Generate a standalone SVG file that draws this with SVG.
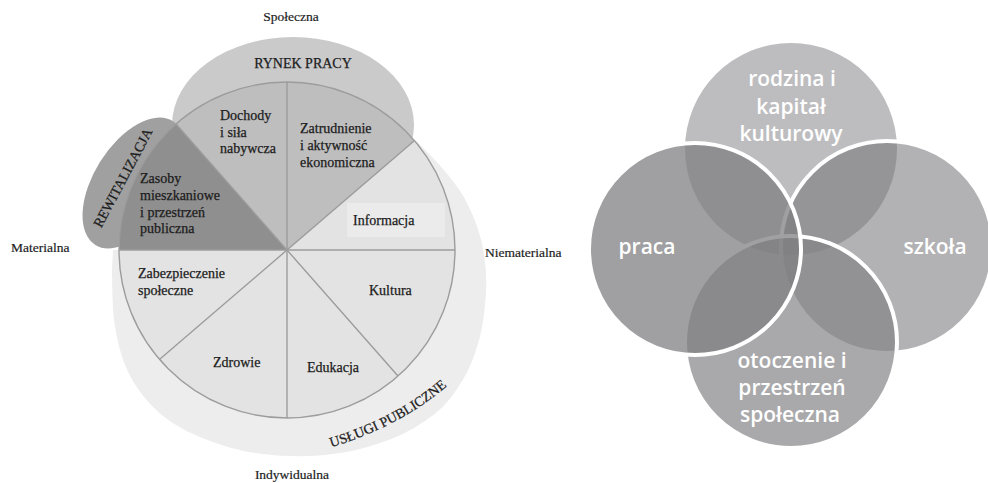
<svg xmlns="http://www.w3.org/2000/svg" width="988" height="483" viewBox="0 0 988 483">
<style>
.t{font-family:"Liberation Serif","Times New Roman",serif;font-size:14px;fill:#1c1c1c;stroke:#1c1c1c;stroke-width:0.25}
.ax{font-family:"Liberation Serif","Times New Roman",serif;font-size:13.5px;fill:#1c1c1c;stroke:#1c1c1c;stroke-width:0.2}
.div{stroke:#9c9c9c;stroke-width:1.4;fill:none}
.light{fill:#e3e3e3}
.mid{fill:#bebebe}
.dark{fill:#8f8f8f}
.w{font-family:"Open Sans","DejaVu Sans",sans-serif;font-size:21px;font-weight:600;fill:#ffffff;text-anchor:middle}
.ring{stroke:#ffffff;stroke-width:4}
</style>
<defs>
<path id="uslugiArc" d="M 325 449 Q 400 428 452 382"/>
</defs>
<rect width="988" height="483" fill="#ffffff"/>

<!-- LEFT DIAGRAM -->
<g id="uslugi-publiczne">
<path d="M 287 250 L 413 138 Q 455 178 467 203 Q 480 228 484 254 Q 488 280 485 305 Q 483 330 476 350 Q 470 370 457 389 Q 445 408 425 421 Q 405 435 380 443 Q 355 452 325 455 Q 295 458 262 454 Q 230 450 200 437 Q 170 425 151 405 Q 132 385 123 360 Q 115 335 113 310 Q 112 285 112 268 L 113 250 Z" fill="#ededed"/>
<text class="t"><textPath href="#uslugiArc" startOffset="50%" text-anchor="middle">USŁUGI PUBLICZNE</textPath></text>
</g>
<g id="rynek-pracy">
<ellipse cx="293" cy="125" rx="121" ry="88" fill="#cacaca"/>
<text class="t" x="303" y="68" text-anchor="middle">RYNEK PRACY</text>
</g>
<g id="rewitalizacja">
<ellipse cx="134" cy="183" rx="73" ry="40" transform="rotate(-58 134 183)" fill="#a0a0a0"/>
<text class="t" font-size="13.5" x="127" y="180" text-anchor="middle" transform="rotate(-62 127 180)">REWITALIZACJA</text>
</g>

<g id="dochody">
<path class="mid" d="M287 250 L287 82 A168 168 0 0 0 176 124 Z"/>
<text class="t" x="220" y="120">Dochody</text>
<text class="t" x="220" y="137">i siła</text>
<text class="t" x="220" y="153">nabywcza</text>
</g>
<g id="zatrudnienie">
<path class="mid" d="M287 250 L287 82 A168 168 0 0 1 414 141 Z"/>
<text class="t" x="300" y="133">Zatrudnienie</text>
<text class="t" x="300" y="150">i aktywność</text>
<text class="t" x="300" y="167">ekonomiczna</text>
</g>
<g id="informacja">
<path class="light" d="M287 250 L414 141 A168 168 0 0 1 455 250 Z"/>
<rect x="347" y="203" width="98" height="34" fill="#ebebeb"/>
<text class="t" x="353" y="225">Informacja</text>
</g>
<g id="kultura">
<path class="light" d="M287 250 L455 250 A168 168 0 0 1 398 376 Z"/>
<text class="t" x="369" y="295">Kultura</text>
</g>
<g id="edukacja">
<path class="light" d="M287 250 L398 376 A168 168 0 0 1 287 418 Z"/>
<text class="t" x="307" y="372">Edukacja</text>
</g>
<g id="zdrowie">
<path class="light" d="M287 250 L287 418 A168 168 0 0 1 160 359 Z"/>
<text class="t" x="213" y="367">Zdrowie</text>
</g>
<g id="zabezpieczenie">
<path class="light" d="M287 250 L160 359 A168 168 0 0 1 119 250 Z"/>
<text class="t" x="138" y="278">Zabezpieczenie</text>
<text class="t" x="138" y="295">społeczne</text>
</g>
<g id="zasoby">
<path class="dark" d="M287 250 L119 250 A168 168 0 0 1 176 124 Z"/>
<text class="t" x="140" y="183">Zasoby</text>
<text class="t" x="140" y="200">mieszkaniowe</text>
<text class="t" x="140" y="217">i przestrzeń</text>
<text class="t" x="140" y="233">publiczna</text>
</g>

<g id="dividers">
<line class="div" x1="287" y1="82" x2="287" y2="418"/>
<line class="div" x1="119" y1="250" x2="455" y2="250"/>
<line class="div" x1="176" y1="124" x2="398" y2="376"/>
<line class="div" x1="414" y1="141" x2="160" y2="359"/>
<circle class="div" cx="287" cy="250" r="168" stroke="#999"/>
</g>

<g id="axis-labels">
<text class="ax" x="291" y="21" text-anchor="middle">Społeczna</text>
<text class="ax" x="11" y="252">Materialna</text>
<text class="ax" x="485" y="257">Niematerialna</text>
<text class="ax" x="292" y="479" text-anchor="middle">Indywidualna</text>
</g>

<!-- RIGHT DIAGRAM -->
<g id="rodzina">
<circle cx="791" cy="149" r="106" fill="#bdbdc0"/>
</g>
<g id="szkola">
<circle class="ring" cx="887" cy="247" r="106" fill="#76767a" fill-opacity="0.56"/>
</g>
<g id="otoczenie">
<circle class="ring" cx="791" cy="342" r="106" fill="#848487" fill-opacity="0.7"/>
</g>
<g id="praca">
<circle class="ring" cx="695" cy="249" r="106" fill="#7f7f82" fill-opacity="0.74"/>
</g>
<g id="circle-labels">
<text class="w" x="792" y="86">rodzina i</text>
<text class="w" x="791" y="114">kapitał</text>
<text class="w" x="791" y="141">kulturowy</text>
<text class="w" x="647" y="254">praca</text>
<text class="w" x="935" y="254">szkoła</text>
<text class="w" x="792" y="368">otoczenie i</text>
<text class="w" x="792" y="395">przestrzeń</text>
<text class="w" x="790" y="422">społeczna</text>
</g>
</svg>
